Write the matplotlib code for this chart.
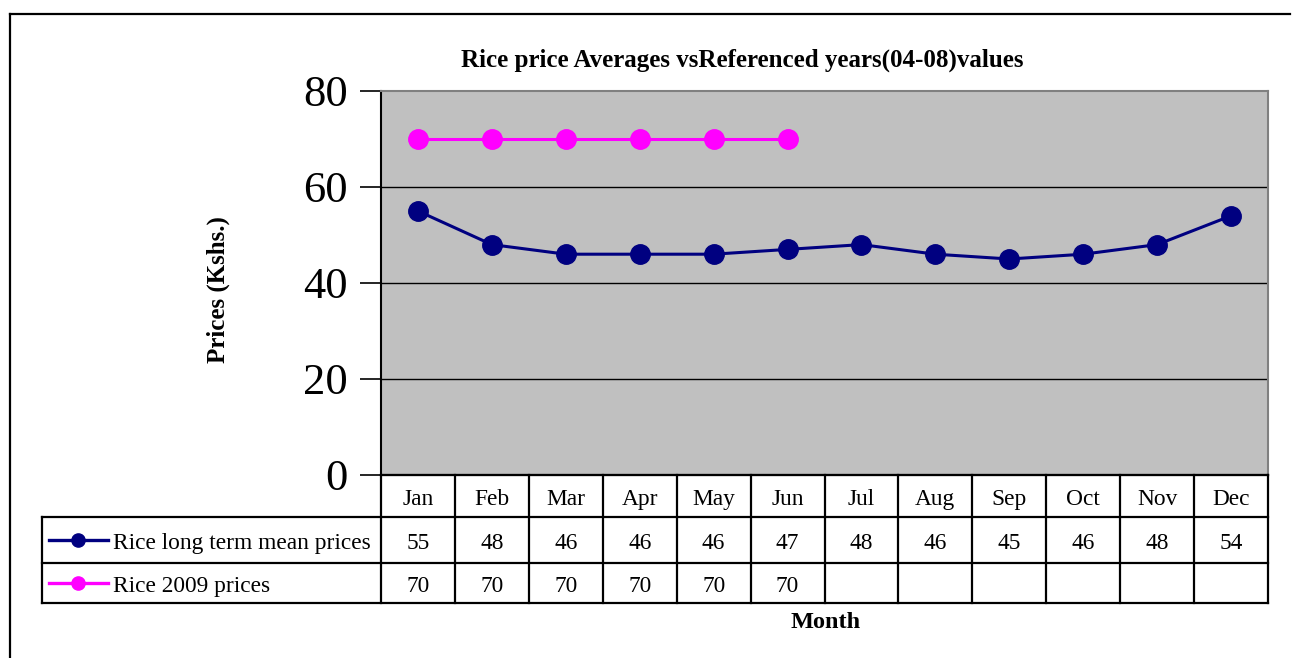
import matplotlib
matplotlib.use("Agg")
import matplotlib.pyplot as plt
from matplotlib.transforms import blended_transform_factory
from matplotlib.lines import Line2D

months = ["Jan", "Feb", "Mar", "Apr", "May", "Jun", "Jul", "Aug", "Sep", "Oct", "Nov", "Dec"]
long_term = [55, 48, 46, 46, 46, 47, 48, 46, 45, 46, 48, 54]
rice_2009 = [70, 70, 70, 70, 70, 70]
series_names = ["Rice long term mean prices", "Rice 2009 prices"]
yticks = [0, 20, 40, 60, 80]
title = "Rice price Averages vsReferenced years(04-08)values"

W, H = 1292, 658
fig = plt.figure(figsize=(W / 100, H / 100), dpi=100)
fig.patch.set_facecolor("white")
serif = ["Liberation Serif", "DejaVu Serif"]

def fy(py):
    return 1 - py / H

def fx(px):
    return px / W

# outer frame
fig.add_artist(Line2D([fx(10), fx(1290)], [fy(14), fy(14)], color="black", lw=1.6, transform=fig.transFigure))
fig.add_artist(Line2D([fx(10), fx(10)], [fy(14), fy(660)], color="black", lw=1.6, transform=fig.transFigure))

L, R, T, B = 381, 1268, 91, 475
ax = fig.add_axes([fx(L), fy(B), (R - L) / W, (B - T) / H])
ax.set_facecolor("#C0C0C0")
x = list(range(len(months)))
ax.plot(x, long_term, color="#000080", lw=2.2, marker="o", ms=14, zorder=3)
ax.plot(x[:len(rice_2009)], rice_2009, color="#FF00FF", lw=2.2, marker="o", ms=14, zorder=3)
ax.set_xlim(-0.5, len(months) - 0.5)
ax.set_ylim(0, 80)
ax.set_yticks(yticks)
ax.set_yticklabels([str(v) for v in yticks], fontfamily=serif, fontsize=32)
ax.set_xticks([])
for v in yticks[1:-1]:
    ax.axhline(v, color="black", lw=1.0, zorder=1)
ax.tick_params(axis="y", length=15, width=1.2, pad=9, color="black")
ax.spines["left"].set_color("black")
ax.spines["left"].set_linewidth(1.5)
ax.spines["bottom"].set_color("black")
ax.spines["bottom"].set_linewidth(1.5)
ax.spines["top"].set_color("#808080")
ax.spines["right"].set_color("#808080")
ax.spines["top"].set_linewidth(1.5)
ax.spines["right"].set_linewidth(1.5)

fig.text(fx(742), fy(60), title, ha="center", va="center", fontfamily=serif,
         fontweight="bold", fontsize=18)
fig.text(fx(218), fy(290), "Prices (Kshs.)", ha="center", va="center", rotation=90,
         fontfamily=serif, fontweight="bold", fontsize=18)
fig.text(fx(826), fy(622), "Month", ha="center", va="center", fontfamily=serif,
         fontweight="bold", fontsize=17.5)

# data table
tr = blended_transform_factory(ax.transData, fig.transFigure)
ftr = fig.transFigure
rows_px = [475, 517, 563, 603]
lw_t = 1.6
n = len(months)
fig.add_artist(Line2D([fx(L), fx(R)], [fy(rows_px[0])] * 2, color="black", lw=lw_t, transform=ftr))
for py in rows_px[1:]:
    fig.add_artist(Line2D([fx(42), fx(R)], [fy(py)] * 2, color="black", lw=lw_t, transform=ftr))
for i in range(n + 1):
    fig.add_artist(Line2D([i - 0.5, i - 0.5], [fy(rows_px[0]), fy(rows_px[3])], color="black", lw=lw_t, transform=tr))
fig.add_artist(Line2D([fx(42), fx(42)], [fy(rows_px[1]), fy(rows_px[3])], color="black", lw=lw_t, transform=ftr))

tfs = 16.8
def mid(a, b):
    return fy((a + b) / 2 + 1)

for i, m in enumerate(months):
    fig.text(i, mid(rows_px[0], rows_px[1]), m, ha="center", va="center_baseline",
             fontfamily=serif, fontsize=tfs, transform=tr)
for i, v in enumerate(long_term):
    fig.text(i, mid(rows_px[1], rows_px[2]), str(v), ha="center", va="center_baseline",
             fontfamily=serif, fontsize=tfs, transform=tr)
for i, v in enumerate(rice_2009):
    fig.text(i, mid(rows_px[2], rows_px[3]), str(v), ha="center", va="center_baseline",
             fontfamily=serif, fontsize=tfs, transform=tr)

colors = ["#000080", "#FF00FF"]
for k, (name, c) in enumerate(zip(series_names, colors)):
    yc = fy((rows_px[k + 1] + rows_px[k + 2]) / 2)
    fig.add_artist(Line2D([fx(49), fx(108)], [yc, yc], color=c, lw=2.4, transform=ftr))
    fig.add_artist(Line2D([fx(78)], [yc], color=c, marker="o", ms=9.5, transform=ftr))
    fig.text(fx(113), mid(rows_px[k + 1], rows_px[k + 2]), name, ha="left", va="center_baseline",
             fontfamily=serif, fontsize=tfs)

fig.savefig("out.png", dpi=100, facecolor="white")
